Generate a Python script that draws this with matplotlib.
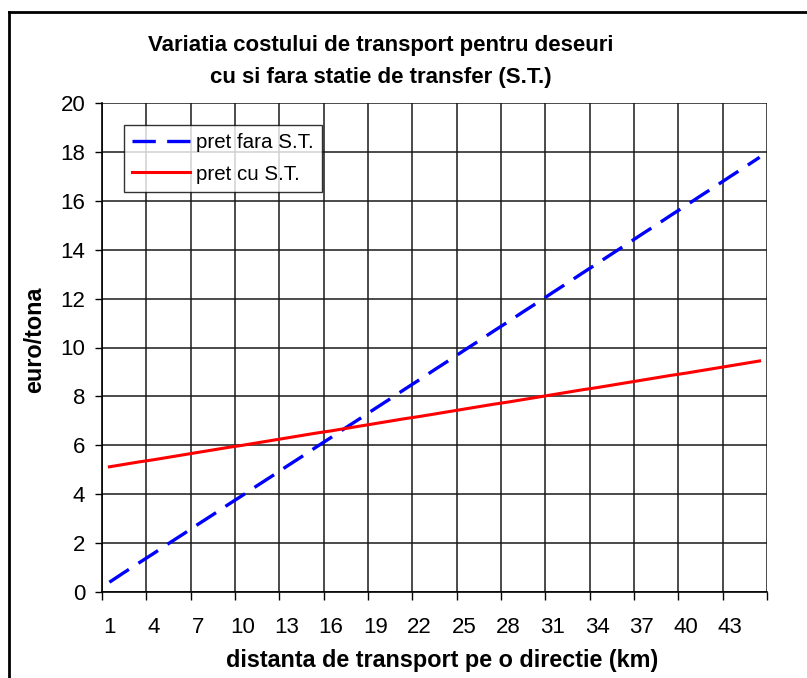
import matplotlib.pyplot as plt
from matplotlib.lines import Line2D

plt.rcParams['font.family'] = ['Liberation Sans', 'DejaVu Sans']

# date
distanta = list(range(1, 46))
pret_fara_st = [0.40, 0.80, 1.19, 1.58, 1.98, 2.37, 2.77, 3.16, 3.56, 3.95,
                4.35, 4.74, 5.14, 5.53, 5.93, 6.32, 6.72, 7.11, 7.51, 7.90,
                8.30, 8.69, 9.09, 9.48, 9.88, 10.27, 10.67, 11.06, 11.46, 11.85,
                12.25, 12.64, 13.04, 13.43, 13.83, 14.22, 14.62, 15.01, 15.41, 15.80,
                16.20, 16.59, 16.99, 17.38, 17.78]
pret_cu_st = [5.12, 5.22, 5.32, 5.41, 5.51, 5.61, 5.71, 5.81, 5.91, 6.00,
              6.10, 6.20, 6.30, 6.40, 6.50, 6.59, 6.69, 6.79, 6.89, 6.99,
              7.09, 7.18, 7.28, 7.38, 7.48, 7.58, 7.68, 7.77, 7.87, 7.97,
              8.07, 8.17, 8.27, 8.36, 8.46, 8.56, 8.66, 8.76, 8.86, 8.95,
              9.05, 9.15, 9.25, 9.35, 9.45]
etichete_x = [1, 4, 7, 10, 13, 16, 19, 22, 25, 28, 31, 34, 37, 40, 43]

fig = plt.figure(figsize=(8.07, 6.78), dpi=100)
ax = fig.add_axes([102 / 807, 1 - 592 / 678, 665 / 807, 489 / 678])

ax.plot(distanta, pret_fara_st, color='#0000ff', lw=2.4, dashes=(7, 3.4),
        label='pret fara S.T.')
ax.plot(distanta, pret_cu_st, color='#ff0000', lw=2.2, label='pret cu S.T.')

ax.set_xlim(0.5, 45.5)
ax.set_ylim(0, 20)
ax.set_yticks(range(0, 21, 2))

# axa de categorii: liniile intre categorii, etichetele pe centru
ax.set_xticks([0.5 + 3 * k for k in range(16)])
ax.set_xticklabels([])
ax.set_xticks(etichete_x, minor=True)
ax.set_xticklabels([str(v) for v in etichete_x], minor=True)
ax.tick_params(axis='x', which='minor', length=0, pad=18, labelsize=16)
ax.tick_params(axis='x', which='major', length=6, width=1, direction='out')
ax.tick_params(axis='y', length=5, width=1, direction='out', labelsize=16, pad=7)

ax.grid(True, which='major', color='#1a1a1a', lw=1.1)
for s in ['top', 'right']:
    ax.spines[s].set_visible(False)
for s in ['left', 'bottom']:
    ax.spines[s].set_color('black')
    ax.spines[s].set_linewidth(1.2)

ax.set_ylabel('euro/tona', fontsize=16.8, fontweight='bold')
ax.yaxis.set_label_coords(-(102 - 35) / 665, (592 - 340) / 489)
ax.yaxis.label.set_va('center')
ax.set_xlabel('distanta de transport pe o directie (km)', fontsize=16.8,
              fontweight='bold')
ax.xaxis.set_label_coords((442 - 102) / 665, -(661 - 592) / 489)
ax.xaxis.label.set_va('center')

leg = ax.legend(loc='upper left', bbox_to_anchor=(22 / 665, 1 - 22 / 489),
                fontsize=14.8, frameon=True, fancybox=False, handlelength=2.8,
                handletextpad=0.3, borderpad=0.4, labelspacing=0.6,
                borderaxespad=0)
leg.get_frame().set_edgecolor('black')
leg.get_frame().set_linewidth(1.0)

fig.text(381 / 807, 1 - 46 / 678, 'Variatia costului de transport pentru deseuri',
         ha='center', va='center', fontsize=16, fontweight='bold')
fig.text(381 / 807, 1 - 78 / 678, 'cu si fara statie de transfer (S.T.)',
         ha='center', va='center', fontsize=16, fontweight='bold')

# chenarul graficului
fig.add_artist(Line2D([9 / 807, 9 / 807], [0, 1 - 12 / 678], color='black', lw=2))
fig.add_artist(Line2D([9 / 807, 1], [1 - 12 / 678, 1 - 12 / 678], color='black', lw=2))

fig.savefig('out.png', dpi=100)
